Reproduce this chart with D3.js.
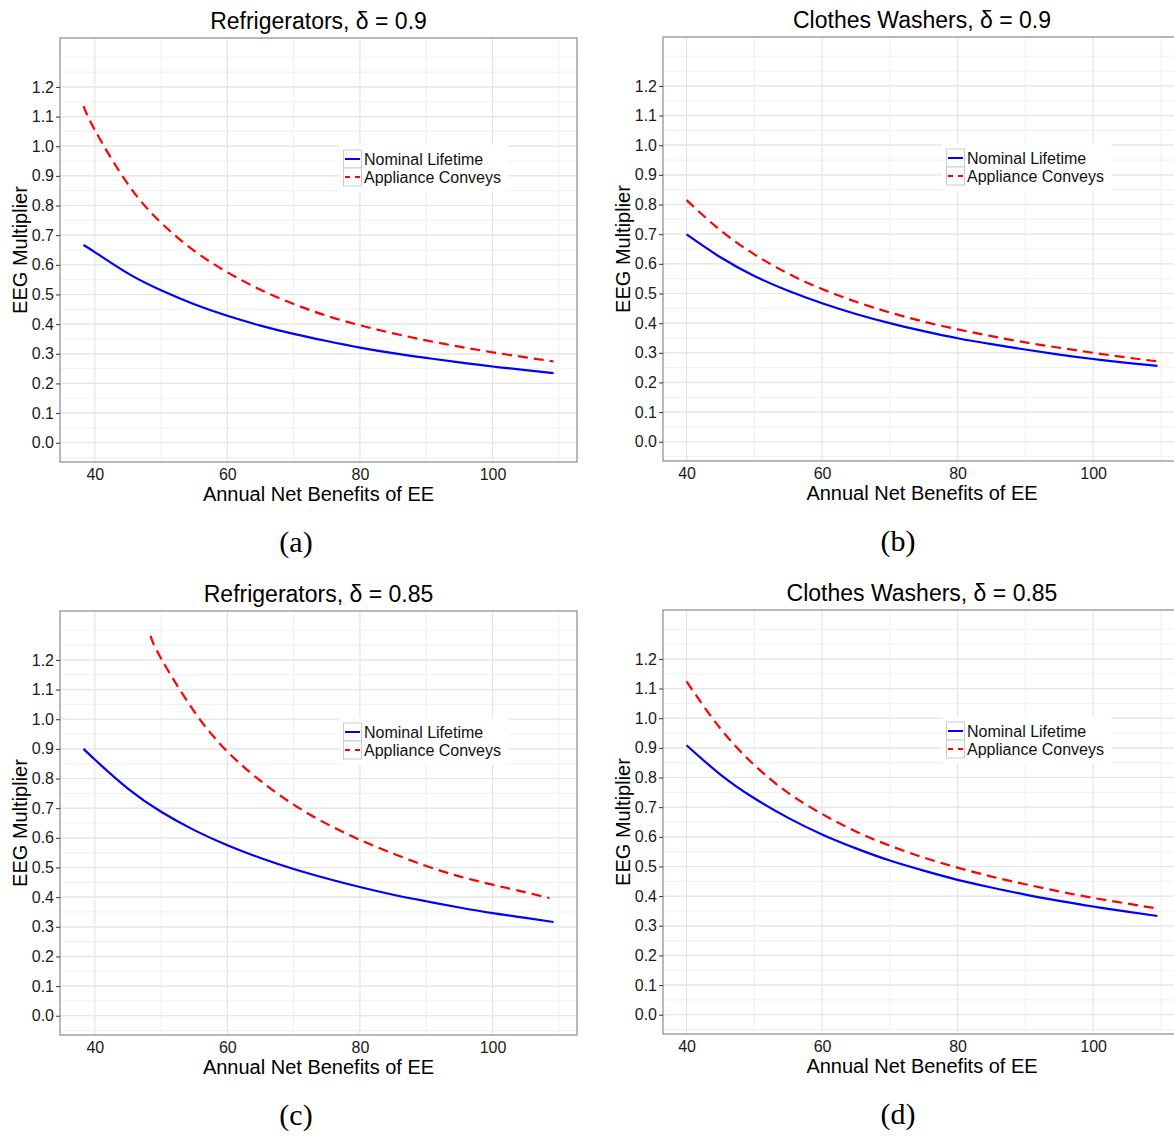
<!DOCTYPE html>
<html>
<head>
<meta charset="utf-8">
<script src="https://cdn.jsdelivr.net/npm/d3@7"></script>
<style>
  body { margin: 0; background: #fff; }
  svg { display: block; font-family: "Liberation Sans", Arial, sans-serif; }
</style>
</head>
<body>
<div id="chart"></div>
<script>
const xRefrig = [38.3, 40, 45, 50, 55, 60, 65, 70, 75, 80, 85, 90, 95, 100, 105, 109.2];
const xRefrigConv85 = [48.4, 50, 55, 60, 65, 70, 75, 80, 85, 90, 95, 100, 105, 108.6];
const xWasher = [40, 45, 50, 55, 60, 65, 70, 75, 80, 85, 90, 95, 100, 105, 109.5];

// EEG multiplier, nominal lifetime (blue) and appliance conveys (red)
const nomRefrig90 = [0.667, 0.643, 0.571, 0.514, 0.467, 0.428, 0.395, 0.367, 0.343, 0.321, 0.302, 0.286, 0.271, 0.257, 0.245, 0.235];
const convRefrig90 = [1.135, 1.055, 0.872, 0.742, 0.647, 0.575, 0.516, 0.468, 0.428, 0.396, 0.369, 0.345, 0.324, 0.305, 0.288, 0.274];
const nomWasher90 = [0.699, 0.622, 0.559, 0.509, 0.467, 0.431, 0.400, 0.373, 0.349, 0.329, 0.311, 0.294, 0.279, 0.266, 0.256];
const convWasher90 = [0.815, 0.713, 0.632, 0.567, 0.515, 0.472, 0.436, 0.405, 0.379, 0.356, 0.335, 0.317, 0.300, 0.284, 0.271];
const nomRefrig85 = [0.900, 0.864, 0.766, 0.688, 0.626, 0.575, 0.532, 0.495, 0.463, 0.434, 0.408, 0.386, 0.365, 0.346, 0.330, 0.316];
const convRefrig85 = [1.281, 1.205, 1.026, 0.891, 0.792, 0.712, 0.647, 0.593, 0.547, 0.505, 0.470, 0.442, 0.416, 0.397];
const nomWasher85 = [0.909, 0.810, 0.730, 0.664, 0.608, 0.561, 0.520, 0.486, 0.455, 0.429, 0.405, 0.384, 0.365, 0.348, 0.333];
const convWasher85 = [1.124, 0.965, 0.842, 0.748, 0.677, 0.618, 0.570, 0.530, 0.496, 0.466, 0.440, 0.416, 0.394, 0.375, 0.358];

const seriesNames = ["Nominal Lifetime", "Appliance Conveys"];
const xTickValues = [40, 60, 80, 100];
const yTickValues = [0, 0.1, 0.2, 0.3, 0.4, 0.5, 0.6, 0.7, 0.8, 0.9, 1.0, 1.1, 1.2];
const yLimits = [0, 1.3];

const width = 1174;
const height = 1136;
const plotH = 424;

const panels = [
    { title: "Refrigerators, δ = 0.9", sub: "(a)", x: xRefrig, blue: nomRefrig90, xRed: xRefrig, red: convRefrig90,
      left: 60, top: 38, w: 517, subX: 296 },
    { title: "Clothes Washers, δ = 0.9", sub: "(b)", x: xWasher, blue: nomWasher90, xRed: xWasher, red: convWasher90,
      left: 663, top: 37, w: 518, subX: 898 },
    { title: "Refrigerators, δ = 0.85", sub: "(c)", x: xRefrig, blue: nomRefrig85, xRed: xRefrigConv85, red: convRefrig85,
      left: 60, top: 611, w: 517, subX: 296 },
    { title: "Clothes Washers, δ = 0.85", sub: "(d)", x: xWasher, blue: nomWasher85, xRed: xWasher, red: convWasher85,
      left: 663, top: 610, w: 518, subX: 898 }
];

const svg = d3.select("#chart")
    .append("svg")
    .attr("width", width)
    .attr("height", height);

// ggplot-like 5% expansion
function expand(ext) {
    const pad = (ext[1] - ext[0]) * 0.05;
    return [ext[0] - pad, ext[1] + pad];
}

panels.forEach(p => {
    const bottom = p.top + plotH;
    const xDom = expand(d3.extent(p.x.concat(p.xRed)));
    const x = d3.scaleLinear().domain(xDom).range([p.left, p.left + p.w]);
    const y = d3.scaleLinear().domain(expand(yLimits)).range([bottom, p.top]);

    const g = svg.append("g");

    g.append("rect")
        .attr("x", p.left).attr("y", p.top)
        .attr("width", p.w).attr("height", plotH)
        .attr("fill", "#fff");

    // minor grid
    const xMinor = d3.range(30, 121, 20).filter(v => v > xDom[0] && v < xDom[1]);
    const yMinor = d3.range(-5, 131, 5).map(v => v / 100).filter(v => v > y.domain()[0] && v < y.domain()[1]);
    g.selectAll(".xminor").data(xMinor).enter().append("line")
        .attr("x1", d => x(d)).attr("x2", d => x(d))
        .attr("y1", p.top).attr("y2", bottom)
        .attr("stroke", "#f2f2f2").attr("stroke-width", 1.2);
    g.selectAll(".yminor").data(yMinor).enter().append("line")
        .attr("x1", p.left).attr("x2", p.left + p.w)
        .attr("y1", d => y(d)).attr("y2", d => y(d))
        .attr("stroke", "#f2f2f2").attr("stroke-width", 1.2);

    // major grid
    g.selectAll(".xmajor").data(xTickValues).enter().append("line")
        .attr("x1", d => x(d)).attr("x2", d => x(d))
        .attr("y1", p.top).attr("y2", bottom)
        .attr("stroke", "#e5e5e5").attr("stroke-width", 1.2);
    g.selectAll(".ymajor").data(yTickValues).enter().append("line")
        .attr("x1", p.left).attr("x2", p.left + p.w)
        .attr("y1", d => y(d)).attr("y2", d => y(d))
        .attr("stroke", "#e5e5e5").attr("stroke-width", 1.2);

    const line = d3.line()
        .x(d => x(d[0]))
        .y(d => y(d[1]))
        .curve(d3.curveNatural);

    g.append("path")
        .datum(p.x.map((v, i) => [v, p.blue[i]]))
        .attr("d", line)
        .attr("fill", "none")
        .attr("stroke", "#0000ff")
        .attr("stroke-width", 2.2);

    g.append("path")
        .datum(p.xRed.map((v, i) => [v, p.red[i]]))
        .attr("d", line)
        .attr("fill", "none")
        .attr("stroke", "#ff0000")
        .attr("stroke-width", 2.2)
        .attr("stroke-dasharray", "10,6");

    // legend
    const leg = g.append("g")
        .attr("transform", `translate(${p.left + 283.5},${p.top + 112})`);
    leg.append("rect")
        .attr("x", -4).attr("y", -5)
        .attr("width", 169).attr("height", 47)
        .attr("fill", "#fff");
    seriesNames.forEach((name, i) => {
        leg.append("rect")
            .attr("x", 0).attr("y", i * 18)
            .attr("width", 18).attr("height", 18)
            .attr("fill", "#fff")
            .attr("stroke", "#cccccc");
        leg.append("line")
            .attr("x1", 1.5).attr("x2", 16.5)
            .attr("y1", i * 18 + 9).attr("y2", i * 18 + 9)
            .attr("stroke", i === 0 ? "#0000ff" : "#ff0000")
            .attr("stroke-width", 2)
            .attr("stroke-dasharray", i === 0 ? null : "5,5");
        leg.append("text")
            .attr("x", 20.5).attr("y", i * 18 + 9)
            .attr("dy", "0.36em")
            .attr("font-size", "16px")
            .attr("fill", "#111")
            .text(name);
    });

    g.append("rect")
        .attr("x", p.left).attr("y", p.top)
        .attr("width", p.w).attr("height", plotH)
        .attr("fill", "none")
        .attr("stroke", "#8a8a8a")
        .attr("stroke-width", 1.2);

    // axes
    const yAxis = g.append("g")
        .attr("transform", `translate(${p.left},0)`)
        .call(d3.axisLeft(y).tickValues(yTickValues).tickFormat(d3.format(".1f")).tickSize(4).tickPadding(2));
    yAxis.select(".domain").remove();
    yAxis.selectAll("line").attr("stroke", "#333");
    yAxis.selectAll("text").attr("font-size", "16px").attr("fill", "#1a1a1a")
        .attr("font-family", "Liberation Sans, Arial, sans-serif");

    const xAxis = g.append("g")
        .attr("transform", `translate(0,${bottom})`)
        .call(d3.axisBottom(x).tickValues(xTickValues).tickSize(0).tickPadding(7));
    xAxis.select(".domain").remove();
    xAxis.selectAll("text").attr("font-size", "16px").attr("fill", "#1a1a1a")
        .attr("font-family", "Liberation Sans, Arial, sans-serif");

    g.append("text")
        .attr("x", p.left + p.w / 2)
        .attr("y", bottom + 39)
        .attr("text-anchor", "middle")
        .attr("font-size", "20px")
        .text("Annual Net Benefits of EE");

    g.append("text")
        .attr("transform", `translate(${p.left - 33},${p.top + plotH / 2}) rotate(-90)`)
        .attr("text-anchor", "middle")
        .attr("font-size", "20px")
        .text("EEG Multiplier");

    g.append("text")
        .attr("x", p.left + p.w / 2)
        .attr("y", p.top - 9)
        .attr("text-anchor", "middle")
        .attr("font-size", "23px")
        .text(p.title);

    g.append("text")
        .attr("x", p.subX)
        .attr("y", bottom + 90)
        .attr("text-anchor", "middle")
        .attr("font-family", "Liberation Serif, serif")
        .attr("font-size", "30px")
        .text(p.sub);
});
</script>
</body>
</html>
